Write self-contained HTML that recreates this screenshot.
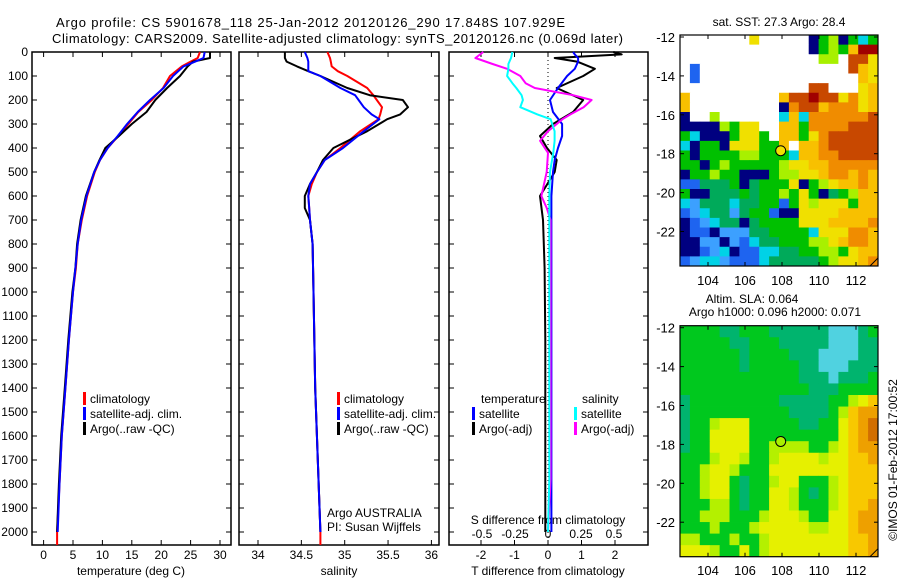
<!DOCTYPE html>
<html><head><meta charset="utf-8"><style>
body{margin:0;background:#fff;}
svg{display:block;font-family:"Liberation Sans",sans-serif;}
</style></head><body>
<svg id="fig" width="900" height="580" viewBox="0 0 900 580">
<rect x="0" y="0" width="900" height="580" fill="#fff"/>
<text x="56" y="27" font-size="13" textLength="509">Argo profile: CS 5901678_118 25-Jan-2012 20120126_290 17.848S 107.929E</text>
<text x="52" y="43" font-size="13" textLength="571">Climatology: CARS2009. Satellite-adjusted climatology: synTS_20120126.nc (0.069d later)</text>
<g id="plots"></g>
<text transform="translate(897,460) rotate(-90)" font-size="12" text-anchor="middle">©IMOS 01-Feb-2012 17:00:52</text>
</svg>
<script>
// ---- data ----
const tDepths=[0,25,40,60,100,150,200,250,300,350,400,450,500,600,700,800,900,1000,1200,1400,1600,1800,2000];
const tClim=[26.6,26.2,25.0,23.5,21.5,20.3,18.4,16.1,14.4,12.7,10.9,9.6,8.7,7.4,6.5,5.8,5.5,5.0,4.3,3.7,3.1,2.7,2.3];
const tSat=[27.4,27.2,25.8,23.8,22.0,20.4,18.1,16.0,14.2,12.6,10.9,9.6,8.6,7.3,6.4,5.8,5.4,5.0,4.3,3.7,3.1,2.7,2.4];
const tArgo=[28.3,28.3,25.4,24.5,23.2,21.0,19.0,17.5,15.0,12.8,10.5,9.5,8.6,7.2,6.3,5.7,5.4,4.9,4.2,3.6,3.0,2.6,2.3];
const sDepths=[0,25,40,60,80,100,150,180,200,230,260,280,330,400,450,500,550,600,650,700,800,1000,1400,1700,2000];
const sClim=[34.80,34.83,34.84,34.85,34.92,35.03,35.26,35.33,35.37,35.43,35.41,35.39,35.18,34.95,34.77,34.68,34.62,34.58,34.59,34.60,34.63,34.64,34.66,34.69,34.72];
const sSat=[34.54,34.57,34.58,34.58,34.58,34.72,34.95,35.12,35.16,35.22,35.31,35.40,35.22,34.98,34.77,34.68,34.60,34.58,34.59,34.60,34.63,34.64,34.66,34.69,34.72];
const sArgo=[34.31,34.31,34.33,34.45,34.58,34.72,35.03,35.29,35.67,35.73,35.64,35.49,35.26,34.87,34.75,34.68,34.60,34.54,34.54,34.60,34.63,34.64,34.66,34.69,34.72];
const dtDepths=[0,10,25,40,70,100,150,200,250,300,350,400,450,500,600,700,900,1200,1600,2000];
const dtSat=[0.75,0.8,0.9,0.9,0.8,0.57,0.3,0.06,0.15,0.42,0.42,0.3,0.2,0.15,0.1,0.1,0.1,0.1,0.1,0.1];
const dtArgo=[1.95,2.2,0.2,0.87,1.4,1.05,0.26,1.05,0.75,0.15,-0.24,-0.03,0.26,0.2,-0.24,-0.15,-0.1,-0.08,-0.08,-0.08];
const dsDepths=[0,25,50,70,100,130,150,180,200,230,260,280,330,370,420,500,600,650,700,1000,1500,1780,2000];
const dsSat=[-0.27,-0.28,-0.3,-0.3,-0.31,-0.27,-0.24,-0.2,-0.19,-0.21,-0.08,0.02,0.05,0.05,0.04,0.015,0.01,0.01,0.01,0.01,0.01,0.01,0.0];
const dsArgo=[-0.49,-0.55,-0.42,-0.31,-0.21,-0.17,-0.1,0.19,0.33,0.27,0.17,0.11,0.0,-0.06,0.0,-0.01,-0.05,-0.01,0.02,0.02,0.02,0.02,0.0];
const depthTicks=[0,100,200,300,400,500,600,700,800,900,1000,1100,1200,1300,1400,1500,1600,1700,1800,1900,2000];
const tTicks=[0,5,10,15,20,25,30];
const sTicks=[34,34.5,35,35.5,36];
const dtTicks=[-2,-1,0,1,2];
const dsTicks=[-0.5,-0.25,0,0.25,0.5];
const dsTickLabels=["-0.5","-0.25","0","0.25","0.5"];
const latTicks=[-12,-14,-16,-18,-20,-22];
const lonTicks=[104,106,108,110,112];
const argoLon=107.929, argoLat=-17.848;
const sstGrid=[
"WWWWWWWyWWWWWNGYNGCG","WWWWWWWWWWWWWNGYGoDD","WWWWWWWWWWWWWWYYWRRy","WBWWWWWWWWWWWWWWWRoy",
"WBWWWWWWWWWWWWWWWWoy","WWWWWWWWWWWWWRRWWWyo","oWWWWWWWWWoRRDRRyOyo","oWWWWWWWWWNORRoOOOyo",
"NWWYWWWWWWCoCOOOOOOR","NNNNYGyyWWooGOOOORRR","GCNNNGyyGWooGyORRRRR","CNGGNyyyGGoWooORRRRR",
"GNGGGGYYGGGCooOORRRR","GGNGYGGGGGYyyooOOOOO","NGGYGGNNNGYYyyoOOoOo","BBTTTGNTGGGyNGYyooOo",
"GNNTTTGTGGYGyGNTGYoo","CLTTTCTTGGBGyYyyyGoo","BLCTTLTGGBNNyyyyoooo","NBLCTTNTGGGGyyyooooO",
"NBBNLLLTTGGGGCyyyOOo","NNLLNLBCTTGGGYYyoOOo","NNBLCNBBCCTTGGYYGyoo","BLCCLBBBCTTTTTGYyyoO"];
const slaGrid=[
"GGGGTTGGGTTTTTTCCCTG","GGGGGTTGGGTTTTTCCCTT","GGGGGGTGGGGTTTCCCCTT","GGGGGGTGGGGGTTCCCTTT",
"GGGGGGGGGGGGTTTCTTTG","GGGGGGGGGGGGGTTTGGGG","TGGGGGGGGGTTTTTGGYyo","TGGGGGGGGGGTTTTGYoOO",
"TGGYyyyGGGGGTTGGyoOR","TGGyyyyGGGGGGGGGyoOR","TGGyyyyGGYYYYGGYyoOO","GGGYyyYGGYyyyyYyyooO",
"GGYyyYGGGyyyyyyyyooo","GGYyyGTGGYyyGGGYyooo","GGYyyGTGGyyYGTGYyooo","GGGYYGTGGyyYGGGYyooO",
"GGYYYGGGYyyyYGGyyoOO","GGGYGGGYyyyyyYYyyoOO","YYGGGYGGYyyyyyyyyooO","yyyYGGyGYyyyyyyyyooO"];
// ---- drawing ----
const NS="http://www.w3.org/2000/svg";
const root=document.getElementById('plots');
function mk(tag,attrs,parent){const e=document.createElementNS(NS,tag);for(const k in attrs)e.setAttribute(k,attrs[k]);(parent||root).appendChild(e);return e;}
function txt(x,y,s,size,anchor,parent){const t=mk('text',{x:x,y:y,'font-size':size,'text-anchor':anchor||'start'},parent);t.textContent=s;return t;}
const TOP=52,BOT=545;
const yD=d=>TOP+d*0.24;
const xT=v=>43.6+v*5.88;
const xS=v=>258+(v-34)*86.7;
const xDT=v=>548+v*33.5;
const xDS=v=>548+v*132;
const panels=[[32,231,'temperature-panel'],[239,439,'salinity-panel'],[449,648,'difference-panel']];
panels.forEach(p=>{
  const g=mk('g',{});
  
  
  mk('rect',{x:p[0],y:TOP,width:p[1]-p[0],height:BOT-TOP,fill:'none',stroke:'#000','stroke-width':1.5},g);
  depthTicks.forEach(d=>{
    mk('line',{x1:p[0],x2:p[0]+5,y1:yD(d),y2:yD(d),stroke:'#000'},g);
    mk('line',{x1:p[1]-5,x2:p[1],y1:yD(d),y2:yD(d),stroke:'#000'},g);
  });
});
const dl=mk('g',{});


depthTicks.forEach(d=>{txt(28,yD(d)+4,String(d),12,'end',dl);});
function xAxis(ticks,labels,fx,name){
  const g=mk('g',{});
  
  
  ticks.forEach((v,i)=>{
    const x=fx(v);
    mk('line',{x1:x,x2:x,y1:BOT-5,y2:BOT,stroke:'#000'},g);
    mk('line',{x1:x,x2:x,y1:TOP,y2:TOP+5,stroke:'#000'},g);
    txt(x,559,labels[i],12,'middle',g);
  });
}
xAxis(tTicks,tTicks.map(String),xT,'temperature-x-axis');
xAxis(sTicks,sTicks.map(String),xS,'salinity-x-axis');
xAxis(dtTicks,dtTicks.map(String),xDT,'t-difference-x-axis');
const dsg=mk('g',{});


dsTicks.forEach((v,i)=>{txt(xDS(v),538,dsTickLabels[i],12,'middle',dsg);});
txt(548,524,'S difference from climatology',12,'middle');
txt(131,575,'temperature (deg C)',12,'middle');
txt(339,575,'salinity',12,'middle');
txt(548,575,'T difference from climatology',12,'middle');
const zl=mk('line',{x1:xDT(0),x2:xDT(0),y1:TOP,y2:BOT,stroke:'#000','stroke-dasharray':'1,3'});


function series(depths,vals,fx,color,name){
  let pts=depths.map((d,i)=>fx(vals[i]).toFixed(1)+','+Math.min(yD(d),BOT).toFixed(1)).join(' ');
  const l=mk('polyline',{points:pts,fill:'none',stroke:color,'stroke-width':2,'stroke-linejoin':'round'});
  
  
  return l;
}
series(tDepths.concat([2055]),tClim.concat([tClim[tClim.length-1]]),xT,'#f00','temperature-climatology-line');
series(tDepths,tArgo,xT,'#000','temperature-argo-line');
series(tDepths,tSat,xT,'#00f','temperature-satellite-line');
series(sDepths.concat([2055]),sClim.concat([sClim[sClim.length-1]]),xS,'#f00','salinity-climatology-line');
series(sDepths,sArgo,xS,'#000','salinity-argo-line');
series(sDepths,sSat,xS,'#00f','salinity-satellite-line');
series(dtDepths,dtArgo,xDT,'#000','t-difference-argo-line');
series(dtDepths,dtSat,xDT,'#00f','t-difference-satellite-line');
series(dsDepths,dsArgo,xDS,'#f0f','s-difference-argo-line');
series(dsDepths,dsSat,xDS,'#0ff','s-difference-satellite-line');
function legend(x,y,color,label,name){
  const g=mk('g',{});
  
  
  mk('rect',{x:x,y:y-11,width:3,height:13,fill:color},g);
  txt(x+7,y,label,12,'start',g);
}
legend(83,403,'#f00','climatology','legend-temp-climatology');
legend(83,418,'#00f','satellite-adj. clim.','legend-temp-satellite');
legend(83,433,'#000','Argo(..raw -QC)','legend-temp-argo');
legend(337,403,'#f00','climatology','legend-sal-climatology');
legend(337,418,'#00f','satellite-adj. clim.','legend-sal-satellite');
legend(337,433,'#000','Argo(..raw -QC)','legend-sal-argo');
txt(481,403,'temperature',12);
txt(582,403,'salinity',12);
legend(472,418,'#00f','satellite','legend-dt-satellite');
legend(472,433,'#000','Argo(-adj)','legend-dt-argo');
legend(574,418,'#0ff','satellite','legend-ds-satellite');
legend(574,433,'#f0f','Argo(-adj)','legend-ds-argo');
txt(327,517,'Argo AUSTRALIA',12);
txt(327,531,'PI: Susan Wijffels',12);
// maps
const sstColors={W:'#ffffff',N:'#000080',B:'#1e64f0',L:'#3ca0ff',C:'#00d2e6',T:'#00aa5a',G:'#00c000',Y:'#a8f000',y:'#f0e000',o:'#f8c000',O:'#f08c00',R:'#c84800',D:'#a00000'};
const slaColors={G:'#00c81e',T:'#00b46e',C:'#50d2e0',Y:'#b4f000',y:'#e6f000',o:'#f8c800',O:'#eea000',R:'#d26e00'};
const MX0=680,MX1=878;
const xLon=l=>708+(l-104)*18.5;
function drawMap(y0,grid,colors,name,circleFill,labY){
  const g=mk('g',{});
  
  
  const yLat=l=>y0+2+(-12-l)*19.45;
  const y1=y0+231;
  const rows=grid.length,cols=grid[0].length;
  const cw=(MX1-MX0)/cols,ch=(y1-y0)/rows;
  grid.forEach((r,i)=>{for(let j=0;j<cols;j++){
    mk('rect',{x:(MX0+j*cw).toFixed(2),y:(y0+i*ch).toFixed(2),width:(cw+0.4).toFixed(2),height:(ch+0.4).toFixed(2),fill:colors[r[j]]},g);
  }});
  mk('rect',{x:MX0,y:y0,width:MX1-MX0,height:y1-y0,fill:'none',stroke:'#000','stroke-width':1.2},g);
  mk('line',{x1:MX1-8,y1:y1,x2:MX1,y2:y1-8,stroke:'#000'},g);
  latTicks.forEach(l=>{const y=yLat(l);mk('line',{x1:MX0,x2:MX0+4,y1:y,y2:y,stroke:'#000'},g);mk('line',{x1:MX1-4,x2:MX1,y1:y,y2:y,stroke:'#000'},g);txt(675,y+5,String(l),13,'end',g);});
  lonTicks.forEach(l=>{const x=xLon(l);mk('line',{x1:x,x2:x,y1:y1-4,y2:y1,stroke:'#000'},g);mk('line',{x1:x,x2:x,y1:y0,y2:y0+4,stroke:'#000'},g);txt(x,labY,String(l),13,'middle',g);});
  const c=mk('circle',{cx:xLon(argoLon),cy:yLat(argoLat),r:5,fill:circleFill,stroke:'#000','stroke-width':1},g);
  
  
}
drawMap(35,sstGrid,sstColors,'sst-map','#f0e000',285);
drawMap(325.7,slaGrid,slaColors,'sla-map','#a8f000',575);
txt(779,26,'sat. SST: 27.3 Argo: 28.4',12,'middle');
txt(752,303,'Altim. SLA: 0.064',12,'middle');
txt(775,316,'Argo h1000: 0.096 h2000: 0.071',12,'middle');
</script>
</body></html>
